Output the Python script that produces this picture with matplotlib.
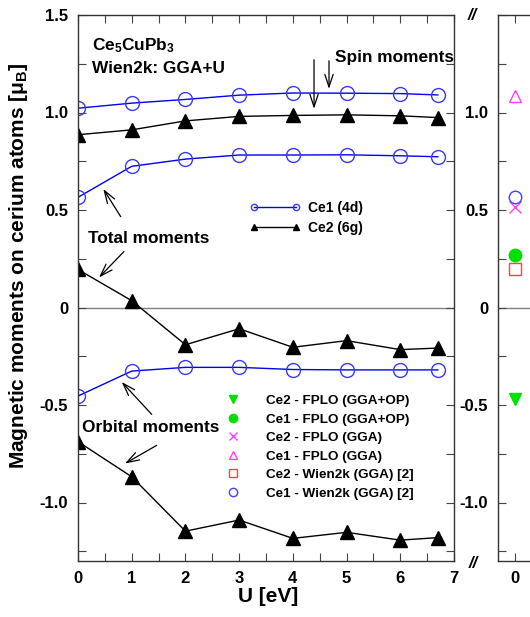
import matplotlib
matplotlib.use("Agg")
import matplotlib.pyplot as plt
from matplotlib.lines import Line2D
from matplotlib.ticker import MultipleLocator

plt.rcParams['font.family'] = ['Liberation Sans', 'DejaVu Sans']
plt.rcParams['font.weight'] = 'bold'
plt.rcParams['mathtext.fontset'] = 'custom'
plt.rcParams['mathtext.rm'] = 'Liberation Sans:bold'
plt.rcParams['mathtext.it'] = 'Liberation Sans:bold'
plt.rcParams['mathtext.bf'] = 'Liberation Sans:bold'

# ---------------- data ----------------
U = [0, 1, 2, 3, 4, 5, 6, 6.7]
ce1_spin = [1.022, 1.048, 1.067, 1.089, 1.100, 1.099, 1.097, 1.090]
ce2_spin = [0.886, 0.911, 0.957, 0.980, 0.985, 0.988, 0.983, 0.974]
ce1_total = [0.565, 0.724, 0.761, 0.782, 0.782, 0.783, 0.778, 0.773]
ce2_total = [0.195, 0.035, -0.191, -0.109, -0.204, -0.170, -0.216, -0.208]
ce1_orb = [-0.454, -0.326, -0.307, -0.307, -0.318, -0.320, -0.320, -0.320]
ce2_orb = [-0.688, -0.868, -1.147, -1.090, -1.184, -1.153, -1.193, -1.180]

ref_labels = ['Ce2 - FPLO (GGA+OP)', 'Ce1 - FPLO (GGA+OP)', 'Ce2 - FPLO (GGA)',
              'Ce1 - FPLO (GGA)', 'Ce2 - Wien2k (GGA) [2]', 'Ce1 - Wien2k (GGA) [2]']
ref_values = [-0.468, 0.271, 0.514, 1.086, 0.198, 0.568]
ref_markers = ['v', 'o', 'x', '^', 's', 'o']
ref_colors = ['#00e000', '#00e000', '#ff40ff', '#ff40ff', '#ff4040', '#4040ff']
ref_filled = [True, True, True, False, False, False]

yticks = [-1.0, -0.5, 0, 0.5, 1.0, 1.5]
ytick_labels = ['-1.0', '-0.5', '0', '0.5', '1.0', '1.5']
ytick_labels_right = ['-1.0', '-0.5', '0', '0.5', '1.0', '']

BLUE = '#0000ee'
BLUE_M = '#3838ff'

fig = plt.figure(figsize=(5.30, 6.17), dpi=100)
W, H = 530, 617

def rect(x0, y0, x1, y1):
    return [x0 / W, 1 - y1 / H, (x1 - x0) / W, (y1 - y0) / H]

ax = fig.add_axes(rect(78, 15, 454, 561))
ax2 = fig.add_axes(rect(498, 15, 566, 561))

# zero lines
for a in (ax, ax2):
    a.axhline(0, color='#808080', lw=1.0, zorder=1)

ms = 10
l1, = ax.plot(U, ce1_spin, '-', color=BLUE, lw=1.0, marker='o', ms=ms, mfc='none', mec=BLUE_M, mew=1.0, label='Ce1 (4d)')
l2, = ax.plot(U, ce2_spin, '-', color='black', lw=1.0, marker='^', ms=ms, mfc='black', mec='black', label='Ce2 (6g)')
ax.plot(U, ce1_total, '-', color=BLUE, lw=1.0, marker='o', ms=ms, mfc='none', mec=BLUE_M, mew=1.0)
ax.plot(U, ce2_total, '-', color='black', lw=1.0, marker='^', ms=ms, mfc='black', mec='black')
ax.plot(U, ce1_orb, '-', color=BLUE, lw=1.0, marker='o', ms=ms, mfc='none', mec=BLUE_M, mew=1.0)
ax.plot(U, ce2_orb, '-', color='black', lw=1.0, marker='^', ms=ms, mfc='black', mec='black')

ax.set_xlim(0, 7)
ax.set_ylim(-1.3, 1.5)
ax.xaxis.set_major_locator(MultipleLocator(1))
ax.xaxis.set_minor_locator(MultipleLocator(0.5))
ax.set_yticks(yticks)
ax.set_yticklabels(ytick_labels)
ax.yaxis.set_minor_locator(MultipleLocator(0.25))
ax.tick_params(which='both', direction='in', top=True, right=True, labelsize=12, width=0.8, color='#444444')
ax.tick_params(which='major', length=6, pad=7)
ax.tick_params(which='minor', length=6)
for lab in ax.get_xticklabels() + ax.get_yticklabels():
    lab.set_fontweight('bold')
for s in ax.spines.values():
    s.set_color('#333333')
    s.set_linewidth(1.0)

fig.text(268 / W, 1 - 596 / H, 'U [eV]', fontsize=15, fontweight='bold', ha='center', va='center')
fig.text(19 / W, 1 - 266 / H, r'Magnetic moments on cerium atoms [$\mu_\mathrm{B}$]', fontsize=15,
         fontweight='bold', rotation=90, ha='center', va='center')

# right panel
handles = []
for lab, v, m, c, f in zip(ref_labels, ref_values, ref_markers, ref_colors, ref_filled):
    fc = c if f else 'none'
    size = 9 if m != 'x' else 8
    ax2.plot([0], [v], linestyle='none', marker=m, ms=size, mfc=fc, mec=c, mew=1.0)
    handles.append(Line2D([], [], linestyle='none', marker=m, ms=6, mfc=fc, mec=c, mew=1.0, label=lab))
ax2.set_xlim(-0.5, 1.5)
ax2.set_ylim(-1.3, 1.5)
ax2.set_xticks([0])
ax2.set_xticklabels(['0'])
ax2.set_yticks(yticks)
ax2.set_yticklabels(ytick_labels_right)
ax2.yaxis.set_minor_locator(MultipleLocator(0.25))
ax2.tick_params(which='both', direction='in', top=True, labelsize=12, width=0.8, color='#444444')
ax2.tick_params(which='major', length=6, pad=7)
ax2.tick_params(which='minor', length=6)
for lab in ax2.get_xticklabels() + ax2.get_yticklabels():
    lab.set_fontweight('bold')
for s in ax2.spines.values():
    s.set_color('#333333')
    s.set_linewidth(1.0)

# legends
leg1 = ax.legend(handles=[l1, l2], loc='upper left', bbox_to_anchor=(243 / W, 1 - 194 / H),
                 bbox_transform=fig.transFigure, frameon=False, numpoints=2, markerscale=0.45,
                 handlelength=3.6, handletextpad=0.6, labelspacing=0.45, borderpad=0,
                 prop={'size': 10, 'weight': 'bold'})
ax.add_artist(leg1)
leg2 = ax.legend(handles=handles, loc='upper left', bbox_to_anchor=(220 / W, 1 - 388 / H),
                 bbox_transform=fig.transFigure, frameon=False, handlelength=1.0,
                 handletextpad=1.9, labelspacing=0.45, borderpad=0,
                 prop={'size': 9.7, 'weight': 'bold'})

# annotations
tkw = dict(fontsize=12.4, fontweight='bold', va='center', ha='left')
ax.text(0.26, 1.341, r'Ce$_5$CuPb$_3$', **tkw)
ax.text(0.26, 1.224, 'Wien2k: GGA+U', **tkw)
ax.text(4.785, 1.280, 'Spin moments', **tkw)
ax.text(0.186, 0.353, 'Total moments', **tkw)
ax.text(0.074, -0.613, 'Orbital moments', **tkw)

akw = dict(arrowstyle='->,head_length=0.9,head_width=0.3', color='black', lw=0.9, shrinkA=0, shrinkB=0)
arrows = [((4.394, 1.270), (4.394, 1.019)),
          ((4.673, 1.265), (4.673, 1.121)),
          ((0.795, 0.466), (0.471, 0.608)),
          ((0.856, 0.287), (0.391, 0.154)),
          ((1.372, -0.548), (0.814, -0.382)),
          ((1.465, -0.707), (0.875, -0.800))]
for start, tip in arrows:
    ax.annotate('', xy=tip, xytext=start, arrowprops=akw)

# axis break marks
fig.text(472 / W, 1 - 16 / H, '//', fontsize=12, fontweight='bold', style='italic', ha='center', va='center')
fig.text(473 / W, 1 - 563 / H, '//', fontsize=12, fontweight='bold', style='italic', ha='center', va='center')

fig.savefig('out.png', dpi=100)
